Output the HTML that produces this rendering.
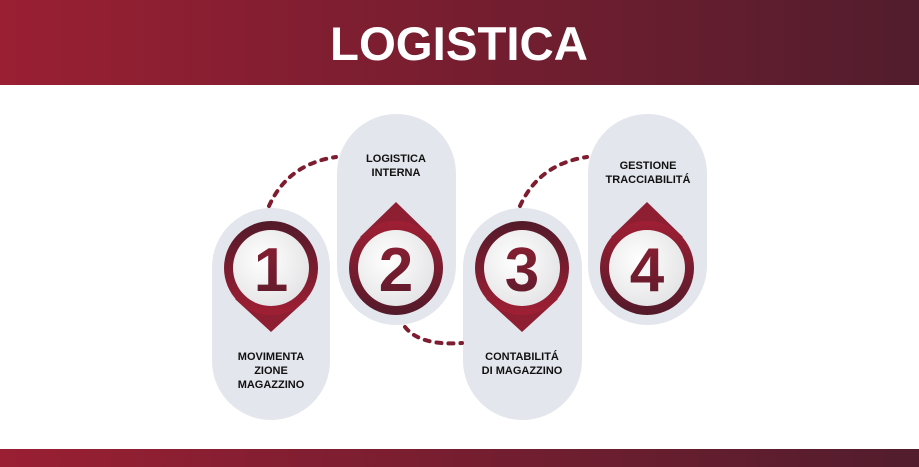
<!DOCTYPE html>
<html><head><meta charset="utf-8"><style>
html,body{margin:0;padding:0;background:#fff;}
svg{display:block;font-family:"Liberation Sans",sans-serif;}
</style></head><body>
<svg width="919" height="467" viewBox="0 0 919 467">
<defs>
<linearGradient id="hdr" x1="0" x2="1"><stop offset="0" stop-color="#9a1f33"/><stop offset="1" stop-color="#521d2d"/></linearGradient>
<linearGradient id="ring" x1="0" y1="0" x2="0" y2="1"><stop offset="0" stop-color="#521a2a"/><stop offset="1" stop-color="#a01f34"/></linearGradient>
<linearGradient id="ringU" x1="0" y1="1" x2="0" y2="0"><stop offset="0" stop-color="#521a2a"/><stop offset="1" stop-color="#a01f34"/></linearGradient>
<radialGradient id="face" cx="0.4" cy="0.4" r="0.7"><stop offset="0" stop-color="#ffffff"/><stop offset="1" stop-color="#e2e2e4"/></radialGradient>
<linearGradient id="num" x1="0" y1="0" x2="0" y2="1"><stop offset="0" stop-color="#8e1f33"/><stop offset="1" stop-color="#5a1b2b"/></linearGradient>
</defs>
<rect x="0" y="0" width="919" height="85" fill="url(#hdr)"/>
<text x="459" y="60" text-anchor="middle" font-size="47" font-weight="bold" fill="#fff" textLength="258" lengthAdjust="spacingAndGlyphs">LOGISTICA</text>
<rect x="0" y="449" width="919" height="18" fill="url(#hdr)"/>

<rect x="212" y="208" width="118" height="212" rx="59" fill="#e3e6ec"/>
<rect x="337" y="114" width="119" height="211" rx="59.5" fill="#e3e6ec"/>
<rect x="463" y="208" width="119" height="212" rx="59.5" fill="#e3e6ec"/>
<rect x="588" y="114" width="119" height="211" rx="59.5" fill="#e3e6ec"/>

<g fill="none" stroke="#7e1d30" stroke-width="4" stroke-dasharray="5 7" stroke-linecap="round">
<path d="M269,206 Q288,164 336,157"/>
<path d="M520,206 Q539,164 587,157"/>
<path d="M405,327 Q420,346 462,343"/>
</g>

<g>
<polygon points="235,299 307,299 271,332" fill="#8e1f33"/>
<circle cx="271" cy="268" r="47" fill="url(#ring)"/>
<circle cx="271" cy="268" r="38" fill="url(#face)"/>
<text x="271" y="291" text-anchor="middle" font-size="62" font-weight="bold" fill="url(#num)">1</text>
</g>
<g>
<polygon points="360,237 432,237 396,202" fill="#8e1f33"/>
<circle cx="396" cy="268" r="47" fill="url(#ringU)"/>
<circle cx="396" cy="268" r="38" fill="url(#face)"/>
<text x="396" y="291" text-anchor="middle" font-size="62" font-weight="bold" fill="url(#num)">2</text>
</g>
<g>
<polygon points="486,299 558,299 522,332" fill="#8e1f33"/>
<circle cx="522" cy="268" r="47" fill="url(#ring)"/>
<circle cx="522" cy="268" r="38" fill="url(#face)"/>
<text x="522" y="291" text-anchor="middle" font-size="62" font-weight="bold" fill="url(#num)">3</text>
</g>
<g>
<polygon points="611,237 683,237 647,202" fill="#8e1f33"/>
<circle cx="647" cy="268" r="47" fill="url(#ringU)"/>
<circle cx="647" cy="268" r="38" fill="url(#face)"/>
<text x="647" y="291" text-anchor="middle" font-size="62" font-weight="bold" fill="url(#num)">4</text>
</g>

<g font-size="11" font-weight="bold" fill="#111" text-anchor="middle">
<text x="271" y="360"><tspan x="271">MOVIMENTA</tspan><tspan x="271" dy="14">ZIONE</tspan><tspan x="271" dy="14">MAGAZZINO</tspan></text>
<text x="396" y="162"><tspan x="396">LOGISTICA</tspan><tspan x="396" dy="14">INTERNA</tspan></text>
<text x="522" y="360"><tspan x="522">CONTABILITÁ</tspan><tspan x="522" dy="14">DI MAGAZZINO</tspan></text>
<text x="648" y="169"><tspan x="648">GESTIONE</tspan><tspan x="648" dy="14">TRACCIABILITÁ</tspan></text>
</g>
</svg>
</body></html>
